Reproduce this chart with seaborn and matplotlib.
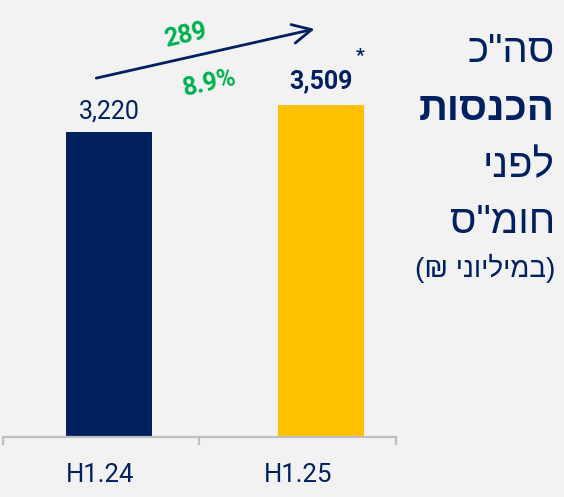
import matplotlib
matplotlib.use('Agg')
import matplotlib.pyplot as plt
import seaborn as sns

# data
periods = ['H1.24', 'H1.25']
revenue = [3220, 3509]
value_labels = ['3,220', '3,509']
change_label = '289'
pct_label = '8.9%'

# colours
navy = '#002060'
yellow = '#ffc000'
green = '#00b050'
bg = '#f2f2f2'
axis_grey = '#bfbfbf'

sns.set_theme(style='white')
plt.rcParams['font.family'] = ['Roboto', 'Liberation Sans', 'DejaVu Sans']


def rtl(s):
    # matplotlib has no bidi support, so reverse hebrew by hand
    return s[::-1]


fig = plt.figure(figsize=(5.64, 4.97), dpi=100, facecolor=bg)
ax = fig.add_axes([3 / 564, 60 / 497, 393 / 564, 437 / 497])
ax.set_facecolor(bg)

sns.barplot(x=periods, y=revenue, hue=periods, palette=[navy, yellow],
            legend=False, width=0.406, saturation=1, linewidth=0, ax=ax)

ax.set_xlim(-0.5, 1.354)
ax.set_ylim(0, 4615)
ax.set_yticks([])
ax.set_ylabel('')
ax.set_xlabel('')
for s in ['top', 'left', 'right']:
    ax.spines[s].set_visible(False)
ax.spines['bottom'].set_color(axis_grey)
ax.spines['bottom'].set_linewidth(1.6)

# category labels sit a bit left of the bars, boundaries get the ticks
ax.set_xticks([-0.04, 0.89], labels=periods)
ax.tick_params(axis='x', which='major', bottom=True, length=0, pad=19, labelsize=18.5, labelcolor=navy)
ax.set_xticks([-0.5, 0.425, 1.354], minor=True)
ax.tick_params(axis='x', which='minor', bottom=True, length=6, width=1.6, color=axis_grey, direction='out')

# value labels
ax.annotate(value_labels[0], (0, revenue[0]), xytext=(0, 9.5), textcoords='offset points',
            ha='center', va='baseline', fontsize=18, color=navy)
ax.annotate(value_labels[1], (1, revenue[1]), xytext=(0, 12), textcoords='offset points',
            ha='center', va='baseline', fontsize=18, color=navy, fontweight='bold')
ax.annotate('*', (1, revenue[1]), xytext=(28, 35), textcoords='offset points',
            ha='center', va='center', fontsize=14, color=navy, fontweight='bold')

# growth arrow
start = (-0.06, revenue[0] + 570)
end = (0.97, revenue[1] + 800)
ax.annotate('', xy=end, xytext=start,
            arrowprops=dict(arrowstyle='->,head_length=0.4,head_width=0.2',
                            color=navy, lw=2, mutation_scale=34, shrinkA=0, shrinkB=0))
mid = ((start[0] + end[0]) / 2, (start[1] + end[1]) / 2)
ax.annotate(change_label, mid, xytext=(-14, 13), textcoords='offset points',
            ha='center', va='center', rotation=12.6, fontsize=18, fontweight='bold', color=green)
ax.annotate(pct_label, mid, xytext=(3, -21.5), textcoords='offset points',
            ha='center', va='center', rotation=12.6, fontsize=18, fontweight='bold', color=green)

# title block on the right (hebrew)
title_lines = [rtl('סה"כ'), rtl('הכנסות'), rtl('לפני'), rtl('חומ"ס'), '(₪ ' + rtl('במיליוני') + ')']
baselines = [62, 120, 177, 233, 277]
sizes = [29, 29, 29, 29, 20]
weights = ['normal', 'bold', 'normal', 'normal', 'normal']
for txt, yb, fs, fw in zip(title_lines, baselines, sizes, weights):
    fig.text(555 / 564, 1 - yb / 497, txt, ha='right', va='baseline',
             fontsize=fs, fontweight=fw, color=navy,
             family=['Liberation Sans', 'DejaVu Sans'])

fig.savefig('out.png', dpi=100, facecolor=bg)
